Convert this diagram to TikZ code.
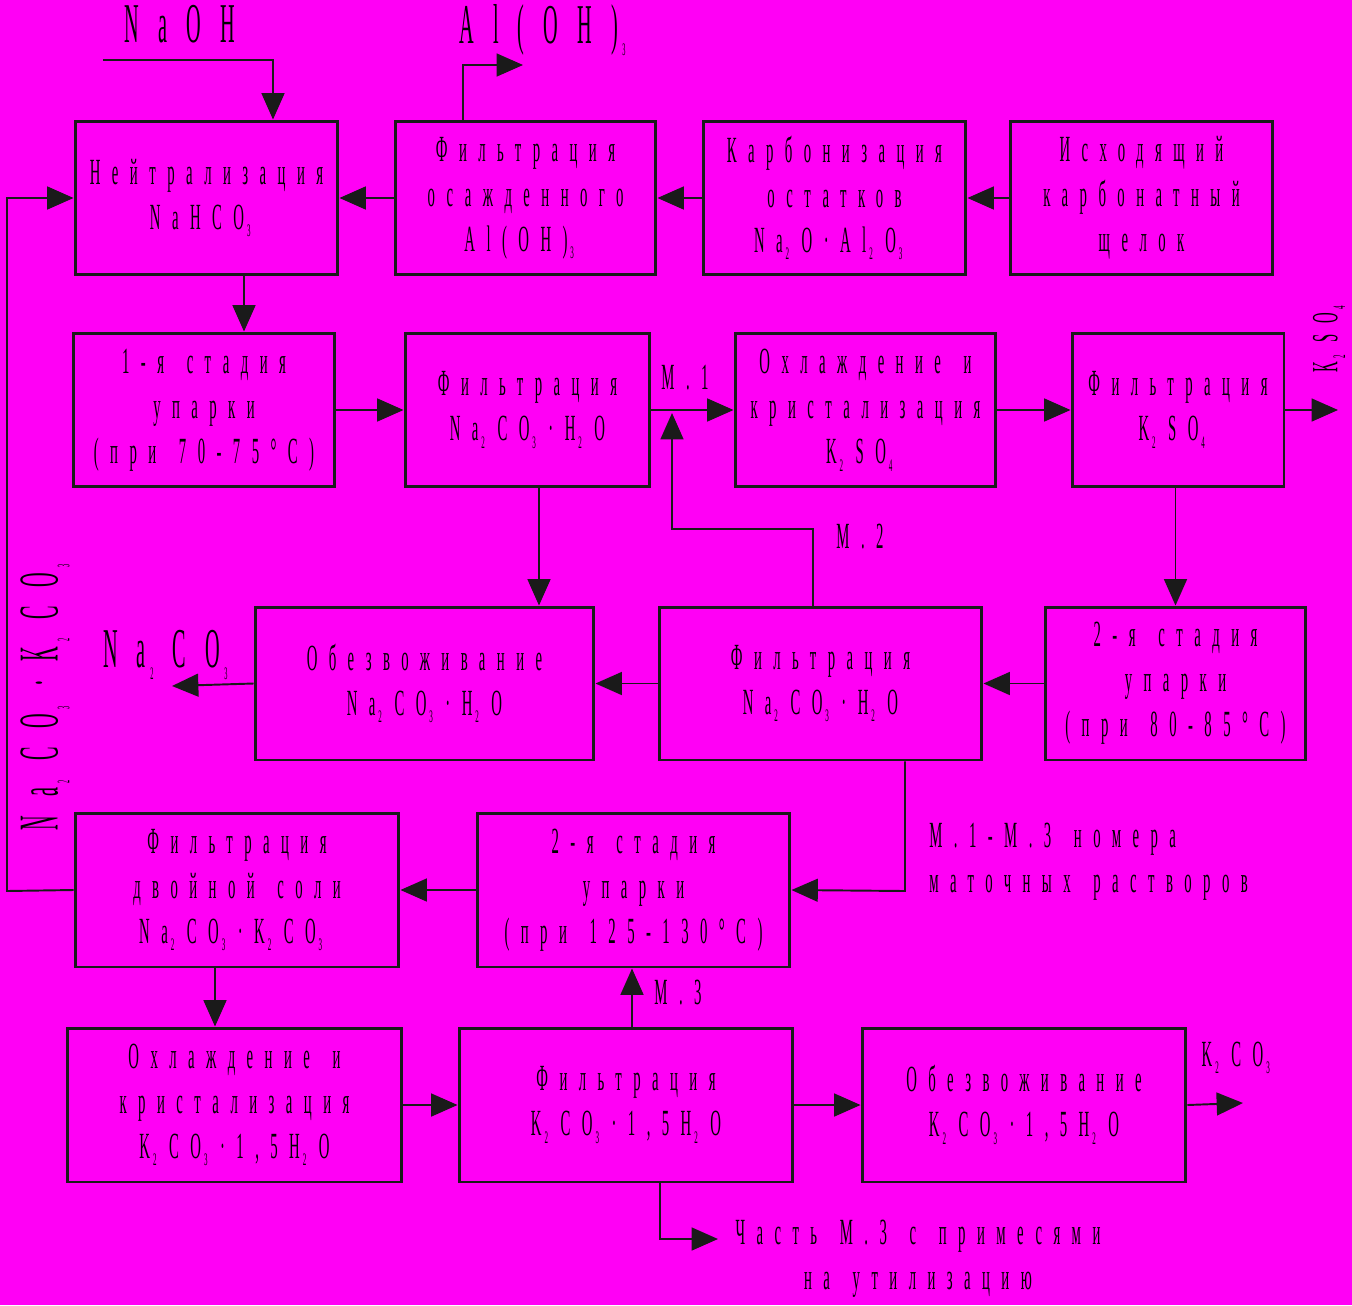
\documentclass[tikz,border=0pt]{standalone}
\usepackage{fontspec}
\setmainfont{Liberation Serif}
\newfontfamily\boxfont{Liberation Serif}[FakeStretch=0.4,LetterSpace=31,WordSpace=1.5]
\newfontfamily\bigfont{Liberation Serif}[FakeStretch=0.36,LetterSpace=34]
\usetikzlibrary{arrows.meta,positioning}
\definecolor{bgpink}{RGB}{255,0,245}
\definecolor{ink}{RGB}{26,26,26}
\newcommand{\ix}[1]{\kern0.08em\raisebox{-0.45ex}{\fontsize{10}{10}\selectfont #1}\kern0.34em}

\tikzset{
  stage/.style={draw=ink, line width=1.7pt, rectangle, align=center, inner sep=0pt,
       minimum height=3.08cm, font=\boxfont\fontsize{21}{25.6}\selectfont},
  flow/.style={draw=ink, line width=1.1pt, -{Triangle[length=15pt,width=13pt]}},
  lbl/.style={font=\boxfont\fontsize{21}{25.6}\selectfont, inner sep=0pt},
  biglbl/.style={font=\bigfont\fontsize{32}{34}\selectfont, inner sep=0pt}
}

\begin{document}
\begin{tikzpicture}[x=0.02cm, y=-0.02cm]
    % background
    \fill[bgpink] (0,0) rectangle (1352,1305);
    \useasboundingbox (0,0) rectangle (1352,1305);

    % row 1
    \node[stage, minimum width=5.26cm] (neut)   at (206.5,198) {Нейтрализация\\NaHCO\ix{3}};
    \node[stage, minimum width=5.22cm] (filtrA) at (525.5,198) {Фильтрация\\осажденного\\Al(OH)\ix{3}};
    \node[stage, minimum width=5.26cm] (carb)   at (834.5,198) {Карбонизация\\остатков\\Na\ix{2}O·Al\ix{2}O\ix{3}};
    \node[stage, minimum width=5.26cm] (init)   at (1141.5,198) {Исходящий\\карбонатный\\щелок};
    % row 2
    \node[stage, minimum width=5.24cm] (evap1)  at (204,410) {1-я стадия\\упарки\\(при 70-75°C)};
    \node[stage, minimum width=4.90cm] (filtrB) at (527.5,410) {Фильтрация\\Na\ix{2}CO\ix{3}·H\ix{2}O};
    \node[stage, minimum width=5.22cm] (coolA)  at (865.5,410) {Охлаждение и\\кристализация\\K\ix{2}SO\ix{4}};
    \node[stage, minimum width=4.24cm] (filtrC) at (1178,410) {Фильтрация\\K\ix{2}SO\ix{4}};
    % row 3
    \node[stage, minimum width=6.78cm, minimum height=3.06cm] (dehydA) at (424.5,683.5) {Обезвоживание\\Na\ix{2}CO\ix{3}·H\ix{2}O};
    \node[stage, minimum width=6.46cm, minimum height=3.06cm] (filtrD) at (820.5,683.5) {Фильтрация\\Na\ix{2}CO\ix{3}·H\ix{2}O};
    \node[stage, minimum width=5.22cm, minimum height=3.06cm] (evap2)  at (1175.5,683.5) {2-я стадия\\упарки\\(при 80-85°C)};
    % row 4
    \node[stage, minimum width=6.48cm] (filtrE) at (237,890) {Фильтрация\\двойной соли\\Na\ix{2}CO\ix{3}·K\ix{2}CO\ix{3}};
    \node[stage, minimum width=6.26cm] (evap3)  at (633.5,890) {2-я стадия\\упарки\\(при 125-130°C)};
    % row 5
    \node[stage, minimum width=6.70cm] (coolB)  at (234.5,1105) {Охлаждение и\\кристализация\\K\ix{2}CO\ix{3}·1,5H\ix{2}O};
    \node[stage, minimum width=6.68cm] (filtrF) at (626,1105) {Фильтрация\\K\ix{2}CO\ix{3}·1,5H\ix{2}O};
    \node[stage, minimum width=6.48cm] (dehydB) at (1024,1105) {Обезвоживание\\K\ix{2}CO\ix{3}·1,5H\ix{2}O};

    % feeds and products
    \node[biglbl] (naohlbl) at (180,24) {NaOH};
    \coordinate (naoh) at (103,60);
    \coordinate (naohbend) at (273,60);
    \draw[flow] (naoh) -- (naohbend) -- (naohbend |- neut.north);

    \node[biglbl] (allbl) at (552,30) {Al(OH)\ix{3}};
    \coordinate (albend) at (463,65);
    \coordinate (alout) at (523,65);
    \draw[flow] (albend |- filtrA.north) -- (albend) -- (alout);

    \draw[flow] (init.west) -- (carb.east);
    \draw[flow] (carb.west) -- (filtrA.east);
    \draw[flow] (filtrA.west) -- (neut.east);

    \coordinate (col1) at (244,0);
    \draw[flow] (col1 |- neut.south) -- (col1 |- evap1.north);
    \draw[flow] (evap1.east) -- (filtrB.west);
    \draw[flow] (filtrB.east) -- (coolA.west);
    \node[lbl] (m1lbl) at (685,378) {М.1};
    \draw[flow] (coolA.east) -- (filtrC.west);
    \coordinate (k2so4out) at (1338,410);
    \draw[flow] (filtrC.east) -- (k2so4out);
    \node[lbl, rotate=90] (k2so4lbl) at (1329,333) {K\ix{2}SO\ix{4}};

    \draw[flow] (filtrC.south -| evap2.north) -- (evap2.north);
    \draw[flow] (evap2.west) -- (filtrD.east);
    \draw[flow] (filtrD.west) -- (dehydA.east);
    \coordinate (naout) at (172,686);
    \draw[flow] (dehydA.west) -- (naout);
    \node[biglbl] (nalbl) at (175,655) {Na\ix{2}CO\ix{3}};

    \coordinate (col2) at (539,0);
    \draw[flow] (col2 |- filtrB.south) -- (col2 |- dehydA.north);

    % mother liquor M.2
    \coordinate (m2a) at (813,529);
    \coordinate (m2b) at (672,529);
    \coordinate (m2end) at (672,413);
    \draw[flow] (m2a |- filtrD.north) -- (m2a) -- (m2b) -- (m2end);
    \node[lbl] (m2lbl) at (860,537) {М.2};

    % mother liquor M.1
    \coordinate (m1bend) at (905,891);
    \draw[flow] (m1bend |- filtrD.south) -- (m1bend) -- (evap3.east);
    \node[lbl, anchor=west, align=left] (notelbl) at (929,862) {М.1-М.3 номера\\маточных растворов};

    \draw[flow] (evap3.west) -- (filtrE.east);
    \coordinate (lb) at (7,891);
    \coordinate (lt) at (7,198);
    \draw[flow] (filtrE.west) -- (lb) -- (lt) -- (neut.west);
    \node[biglbl, rotate=90] (dbllbl) at (45,688) {Na\ix{2}CO\ix{3}·K\ix{2}CO\ix{3}};

    \coordinate (col3) at (215,0);
    \draw[flow] (col3 |- filtrE.south) -- (col3 |- coolB.north);
    \draw[flow] (coolB.east) -- (filtrF.west);
    \coordinate (col4) at (632,0);
    \draw[flow] (col4 |- filtrF.north) -- (col4 |- evap3.south);
    \node[lbl] (m3lbl) at (678,993) {М.3};
    \draw[flow] (filtrF.east) -- (dehydB.west);
    \coordinate (k2co3out) at (1243,1103);
    \draw[flow] (dehydB.east) -- (k2co3out);
    \node[lbl] (k2co3lbl) at (1242,1058) {K\ix{2}CO\ix{3}};

    \coordinate (wbend) at (660,1239);
    \coordinate (wout) at (718,1239);
    \draw[flow] (wbend |- filtrF.south) -- (wbend) -- (wout);
    \node[lbl, align=center] (wastelbl) at (918,1259) {Часть М.3 с примесями\\на утилизацию};
\end{tikzpicture}
\end{document}
